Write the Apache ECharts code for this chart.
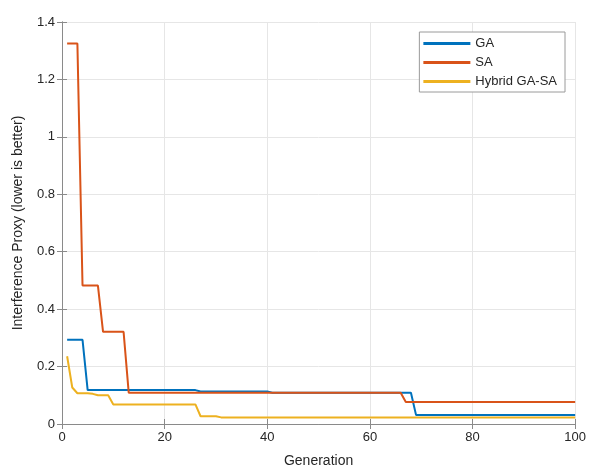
<!DOCTYPE html>
<html>
<head>
<meta charset="utf-8">
<script src="https://cdn.jsdelivr.net/npm/echarts@6/dist/echarts.min.js"></script>
<style>
    html, body { margin: 0; padding: 0; background: #fff; }
    #chart { width: 589px; height: 473px; }
</style>
</head>
<body>
<div id="chart"></div>
<script>
// generation / value pairs (points where the curve changes)
const gaGen = [1, 4, 5, 26, 27, 40, 41, 68, 69, 100]
const gaVal = [0.293, 0.293, 0.118, 0.118, 0.113, 0.113, 0.109, 0.109, 0.031, 0.031]

const saGen = [1, 3, 4, 7, 8, 12, 13, 66, 67, 100]
const saVal = [1.325, 1.325, 0.482, 0.482, 0.321, 0.321, 0.109, 0.109, 0.077, 0.077]

const hyGen = [1, 2, 3, 5, 6, 7, 9, 10, 26, 27, 30, 31, 100]
const hyVal = [0.236, 0.127, 0.107, 0.107, 0.105, 0.100, 0.100, 0.068, 0.068, 0.027, 0.027, 0.023, 0.023]

const xTicks = [0, 20, 40, 60, 80, 100]
const yTicks = [0, 0.2, 0.4, 0.6, 0.8, 1, 1.2, 1.4]

const pairs = (g, v) => g.map((x, i) => [x, v[i]])

const font = 'Liberation Sans, Arial, sans-serif'
const axisColor = '#8a8a8a'
const textColor = '#262626'

const chart = echarts.init(document.getElementById('chart'))

const lineSeries = (name, g, v, color) => ({
    name,
    type: 'line',
    data: pairs(g, v),
    symbol: 'none',
    animation: false,
    lineStyle: { width: 2, color },
    itemStyle: { color },
})

chart.setOption({
    animation: false,
    grid: { left: 62, right: 12, top: 22, bottom: 48 },
    legend: {
        right: 24,
        top: 32,
        orient: 'vertical',
        itemWidth: 47,
        itemHeight: 3,
        itemGap: 6,
        padding: [5, 8, 4, 4],
        borderColor: '#9a9a9a',
        borderWidth: 1,
        backgroundColor: '#fff',
        icon: 'rect',
        textStyle: { fontFamily: font, fontSize: 13, color: textColor },
        data: ['GA', 'SA', 'Hybrid GA-SA'],
    },
    xAxis: [
        {
            type: 'value',
            min: 0,
            max: 100,
            interval: 20,
            name: 'Generation',
            nameLocation: 'middle',
            nameGap: 30,
            nameTextStyle: { fontFamily: font, fontSize: 14, color: textColor },
            axisLine: { lineStyle: { color: axisColor } },
            axisTick: { inside: true, length: 5, lineStyle: { color: axisColor } },
            axisLabel: {
                fontFamily: font, fontSize: 13, color: textColor, margin: 7,
                formatter: (v) => xTicks.includes(v) ? String(v) : '',
            },
            splitLine: { show: true, lineStyle: { color: '#e6e6e6' } },
        },
        {
            type: 'value',
            position: 'top',
            min: 0,
            max: 100,
            interval: 20,
            axisLine: { show: true, lineStyle: { color: axisColor } },
            axisTick: { show: true, inside: true, length: 5, lineStyle: { color: axisColor } },
            axisLabel: { show: false },
            splitLine: { show: false },
        },
    ],
    yAxis: [
        {
            type: 'value',
            min: 0,
            max: 1.4,
            interval: 0.2,
            name: 'Interference Proxy (lower is better)',
            nameLocation: 'middle',
            nameGap: 37,
            nameTextStyle: { fontFamily: font, fontSize: 14, color: textColor },
            axisLine: { show: true, lineStyle: { color: axisColor } },
            axisTick: { show: true, inside: true, length: 5, lineStyle: { color: axisColor } },
            axisLabel: {
                fontFamily: font, fontSize: 13, color: textColor, margin: 7,
                formatter: (v) => {
                    const t = yTicks.find((y) => Math.abs(y - v) < 1e-6)
                    return t === undefined ? '' : String(Math.round(t * 10) / 10)
                },
            },
            splitLine: { show: true, lineStyle: { color: '#e6e6e6' } },
        },
        {
            type: 'value',
            position: 'right',
            min: 0,
            max: 1.4,
            interval: 0.2,
            axisLine: { show: true, lineStyle: { color: axisColor } },
            axisTick: { show: true, inside: true, length: 5, lineStyle: { color: axisColor } },
            axisLabel: { show: false },
            splitLine: { show: false },
        },
    ],
    series: [
        lineSeries('GA', gaGen, gaVal, '#0072BD'),
        lineSeries('SA', saGen, saVal, '#D95319'),
        lineSeries('Hybrid GA-SA', hyGen, hyVal, '#EDB120'),
    ],
})
</script>
</body>
</html>
